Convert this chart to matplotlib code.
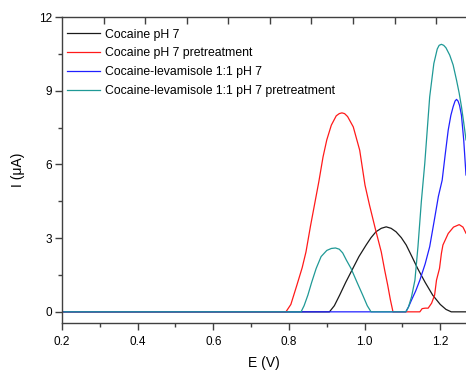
import matplotlib
matplotlib.use("Agg")
import matplotlib.pyplot as plt
import numpy as np

plt.rcParams['font.family'] = ['Liberation Sans', 'DejaVu Sans']

# potential E (V) and current I (uA)
black_E = [0.200, 0.907, 0.920, 0.934, 0.950, 0.969, 0.985, 1.004, 1.017, 1.030, 1.044,
           1.057, 1.070, 1.083, 1.097, 1.110, 1.125, 1.140, 1.160, 1.180, 1.200, 1.215,
           1.229, 1.268]
black_I = [0, 0, 0.25, 0.68, 1.20, 1.77, 2.25, 2.72, 3.02, 3.26, 3.40,
           3.46, 3.40, 3.26, 3.02, 2.72, 2.25, 1.77, 1.20, 0.68, 0.30, 0.10,
           0, 0]

red_E = [0.200, 0.792, 0.805, 0.821, 0.835, 0.845, 0.857, 0.868, 0.879, 0.890, 0.900,
         0.912, 0.925, 0.933, 0.940, 0.947, 0.955, 0.970, 0.987, 1.001, 1.013, 1.028,
         1.044, 1.053, 1.061, 1.068, 1.075, 1.146, 1.152, 1.160, 1.168, 1.177, 1.185,
         1.190, 1.198, 1.203, 1.207, 1.221, 1.235, 1.250, 1.260, 1.268]
red_I = [0, 0, 0.30, 1.09, 1.80, 2.44, 3.50, 4.40, 5.30, 6.30, 7.00,
         7.60, 7.98, 8.07, 8.10, 8.07, 7.95, 7.53, 6.58, 5.16, 4.34, 3.40,
         2.44, 1.70, 1.09, 0.50, 0, 0, 0.13, 0.15, 0.15, 0.35, 0.68,
         1.29, 1.77, 2.38, 2.72, 3.19, 3.45, 3.55, 3.45, 3.20]

blue_E = [0.200, 1.109, 1.116, 1.124, 1.135, 1.146, 1.160, 1.172, 1.185, 1.195, 1.205,
          1.213, 1.221, 1.228, 1.234, 1.239, 1.243, 1.247, 1.251, 1.256, 1.262, 1.268]
blue_I = [0, 0, 0.20, 0.48, 0.85, 1.29, 1.95, 2.65, 3.80, 4.70, 5.36,
          6.40, 7.40, 8.00, 8.35, 8.58, 8.65, 8.58, 8.40, 8.00, 6.99, 5.57]

teal_E = [0.205, 0.832, 0.840, 0.850, 0.860, 0.872, 0.885, 0.900, 0.912, 0.923, 0.933,
          0.942, 0.952, 0.964, 0.980, 0.995, 1.007, 1.017, 1.109, 1.116, 1.124, 1.133,
          1.141, 1.150, 1.159, 1.166, 1.172, 1.183, 1.192, 1.197, 1.203, 1.209, 1.215,
          1.225, 1.234, 1.243, 1.250, 1.256, 1.262, 1.268]
teal_I = [0, 0, 0.25, 0.68, 1.20, 1.77, 2.25, 2.50, 2.58, 2.60, 2.55,
          2.40, 2.10, 1.77, 1.20, 0.68, 0.25, 0, 0, 0.20, 0.61, 1.29,
          2.65, 4.50, 6.04, 7.50, 8.75, 10.11, 10.70, 10.85, 10.89, 10.85, 10.75,
          10.45, 10.05, 9.43, 8.90, 8.35, 7.70, 7.00]

labels = ['Cocaine pH 7', 'Cocaine pH 7 pretreatment',
          'Cocaine-levamisole 1:1 pH 7', 'Cocaine-levamisole 1:1 pH 7 pretreatment']

fig = plt.figure(figsize=(4.66, 3.71), dpi=100)
ax = fig.add_axes([0.133, 0.129, 0.867, 0.825])

ax.plot(black_E, black_I, color='#1a1a1a', lw=0.9, label=labels[0])
ax.plot(red_E, red_I, color='#ff1a1a', lw=0.9, label=labels[1])
ax.plot(blue_E, blue_I, color='#2020ff', lw=0.9, label=labels[2])
ax.plot(teal_E, teal_I, color='#1f9996', lw=0.9, label=labels[3])

ax.set_xlim(0.2, 1.268)
ax.set_ylim(-0.46, 12)
ax.set_xticks([0.2, 0.4, 0.6, 0.8, 1.0, 1.2])
ax.set_xticklabels(['0.2', '0.4', '0.6', '0.8', '1.0', '1.2'])
ax.set_xticks(np.arange(0.3, 1.21, 0.2), minor=True)
ax.set_yticks([0, 3, 6, 9, 12])
ax.set_yticks([1.5, 4.5, 7.5, 10.5], minor=True)

for s in ['left', 'bottom', 'top']:
    ax.spines[s].set_color('#404040')
    ax.spines[s].set_linewidth(1.0)
ax.spines['right'].set_visible(False)
ax.tick_params(which='major', direction='out', length=5, width=1.0, color='#404040',
               labelsize=8.5, pad=2)
ax.tick_params(which='minor', direction='out', length=3, width=1.0, color='#404040')
ax.tick_params(axis='x', pad=4)

# top axis ticks (inward, no labels)
top = ax.twiny()
top.set_xlim(ax.get_xlim())
top.set_xticks(0.2 + 0.1099 * np.arange(1, 10))
top.set_xticklabels([])
top.tick_params(direction='in', length=5, width=1.0, color='#404040')
for s in top.spines.values():
    s.set_visible(False)

ax.set_xlabel('E (V)', fontsize=10, labelpad=6)
ax.set_ylabel('I (\u03bcA)', fontsize=10, labelpad=10)

ax.legend(loc='upper left', frameon=False, fontsize=8.8, handlelength=2.7,
          handletextpad=0.4, labelspacing=0.56, borderaxespad=0, borderpad=0,
          bbox_to_anchor=(5 / 404, 1 - 11.5 / 306))

fig.savefig('out.png', dpi=100)
